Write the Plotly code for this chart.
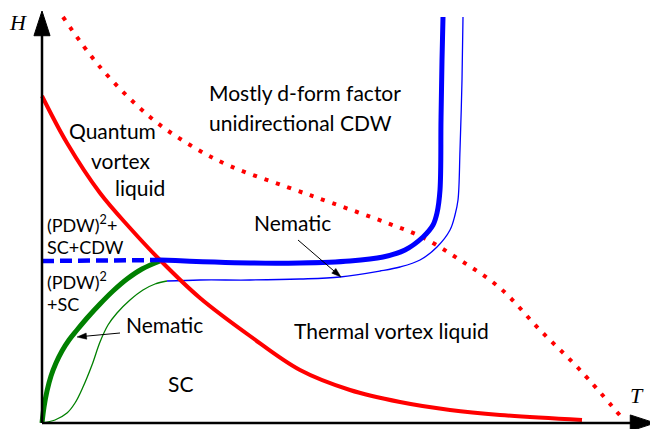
import plotly.graph_objects as go

# Phase boundaries in (T, H) units (arbitrary)
red_T = [0, 25, 58, 88, 118, 158, 208, 258, 308, 358, 408, 458, 540]
red_H = [327, 280, 230, 195, 163, 125, 87, 53, 33, 21, 13, 8, 3]

cdw_T = [21, 58, 108, 148, 188, 245, 290, 345, 380, 418, 458, 498, 538, 581]
cdw_H = [406, 356, 306, 278, 257, 236, 220, 200, 186, 163, 135, 93, 53, 4]

blue_dash_T = [0, 118]
blue_dash_H = [162, 163]

blue_T = [118, 208, 258, 308, 341, 363, 381, 391, 395, 398, 399, 400, 401]
blue_H = [163, 160, 160, 162, 166, 173, 186, 198, 210, 233, 303, 363, 406]

nem_blue_T = [125, 158, 208, 258, 298, 338, 358, 378, 395, 408, 413, 416, 418, 420, 421]
nem_blue_H = [142, 143, 143, 144, 146, 152, 156, 163, 176, 193, 208, 223, 273, 343, 406]

green_T = [0, 2, 5, 9, 14, 20, 27, 35, 46, 58, 71, 85, 100, 118]
green_H = [0, 16, 32, 47, 60, 72, 83, 93, 106, 119, 132, 144, 154, 162]

nem_green_T = [0, 13, 25, 33, 41, 50, 58, 66, 75, 88, 101, 113, 125]
nem_green_H = [0, 3, 10, 20, 36, 58, 81, 98, 110, 123, 133, 139, 142]

# arrows: (tail T, tail H, head T, head H)
axis_T_arrow = (0, 0, 613, 0)
axis_H_arrow = (0, 0, 0, 412)
nematic_arrow_1 = (78, 90, 35, 86)
nematic_arrow_2 = (256, 183, 299, 146)

font = "Lato"

fig = go.Figure()

def line(x, y, color, width, dash="solid"):
    fig.add_trace(go.Scatter(x=x, y=y, mode="lines",
                             line=dict(color=color, width=width, dash=dash, shape="spline", smoothing=1.0),
                             hoverinfo="skip", showlegend=False))

def arrow(a, width, size, outline):
    fig.add_trace(go.Scatter(x=[a[0], a[2]], y=[a[1], a[3]], mode="lines+markers",
                             line=dict(color="black", width=width),
                             marker=dict(symbol="arrow", size=[0, size], color="rgb(0,0,0)", opacity=1,
                                         angleref="previous", line=dict(width=outline, color="rgb(0,0,0)")),
                             opacity=1, hoverinfo="skip", showlegend=False))

line(cdw_T, cdw_H, "#ff0000", 4, "4px,8px")
line(nem_green_T, nem_green_H, "#008000", 1.3)
line(nem_blue_T, nem_blue_H, "#0000ff", 1.3)
line(green_T, green_H, "#008000", 5)
line(red_T, red_H, "#ff0000", 4)
line(blue_dash_T, blue_dash_H, "#0000ff", 4.5, "12px,6px")
line(blue_T, blue_H, "#0000ff", 5)

arrow(axis_T_arrow, 2.5, 26, 1)
arrow(axis_H_arrow, 2.5, 26, 1)
arrow(nematic_arrow_1, 1, 10, 0.5)
arrow(nematic_arrow_2, 1, 10, 0.5)

ann = []

def txt(x, y, s, size=21, xanchor="center", fam=font):
    ann.append(dict(x=x, y=y, text=s, showarrow=False, xref="x", yref="y",
                    xanchor=xanchor, yanchor="middle", font=dict(family=fam, size=size, color="black")))

txt(-24, 401, "<i>H</i>", 22, fam="Liberation Serif")
txt(595, 28, "<i>T</i>", 22, fam="Liberation Serif")
txt(165, 331, "Mostly d-form factor", 21, "left")
txt(165, 301, "unidirectional CDW", 21, "left")
txt(70, 293, "Quantum", 21)
txt(79, 263, "vortex", 21)
txt(98, 236, "liquid", 21)
txt(3, 199, "(PDW)<sup>2</sup>+", 18, "left")
txt(3, 176, "SC+CDW", 18, "left")
txt(3, 142, "(PDW)<sup>2</sup>", 18, "left")
txt(3, 119, "+SC", 18, "left")
txt(122, 99, "Nematic", 21)
txt(250, 201, "Nematic", 21)
txt(138, 40, "SC", 21)
txt(349, 93, "Thermal vortex liquid", 21)

# the page body has an 8px margin; shift the ranges so the drawing lands where intended
fig.update_layout(
    width=658, height=429, margin=dict(l=0, r=0, t=0, b=0),
    paper_bgcolor="white", plot_bgcolor="white",
    xaxis=dict(range=[-34, 624], visible=False, fixedrange=True),
    yaxis=dict(range=[-14, 415], visible=False, fixedrange=True),
    annotations=ann,
)

fig.write_html("out.html")
